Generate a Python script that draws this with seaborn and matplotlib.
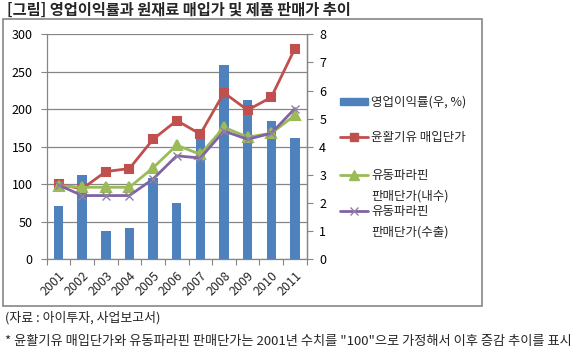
import numpy as np
import pandas as pd
import matplotlib
matplotlib.use("Agg")
import matplotlib.pyplot as plt
import seaborn as sns
from matplotlib.lines import Line2D
from matplotlib.patches import Rectangle

# ---- data ----
years = ["2001", "2002", "2003", "2004", "2005", "2006", "2007", "2008", "2009", "2010", "2011"]
op_margin = [1.9, 3.0, 1.0, 1.1, 2.88, 2.0, 4.32, 6.9, 5.68, 4.9, 4.3]          # right axis
base_oil_price = [100, 94, 117, 121, 160, 185, 167, 222, 199, 216, 281]      # left axis
paraffin_domestic = [98, 96, 96, 96, 122, 152, 140, 176, 163, 168, 192]
paraffin_export = [99, 85, 85, 85, 107, 138, 135, 171, 160, 168, 201]
left_ticks = [0, 50, 100, 150, 200, 250, 300]
right_ticks = [0, 1, 2, 3, 4, 5, 6, 7, 8]

title = "[그림] 영업이익률과 원재료 매입가 및 제품 판매가 추이"
legend_labels = ["영업이익률(우, %)", "윤활기유 매입단가", "유동파라핀\n판매단가(내수)", "유동파라핀\n판매단가(수출)"]
source = "(자료 : 아이투자, 사업보고서)"
note = '* 윤활기유 매입단가와 유동파라핀 판매단가는 2001년 수치를 "100"으로 가정해서 이후 증감 추이를 표시'

BLUE, RED, GREEN, PURPLE = "#4F81BD", "#C0504D", "#9BBB59", "#8064A2"
GRAY = "#868686"
XGRAY = "#8F82A6"

sns.set_theme(style="white")
plt.rcParams["font.family"] = ["Noto Sans CJK KR", "DejaVu Sans"]

W, H = 575, 349
fig = plt.figure(figsize=(W / 100, H / 100), dpi=100)
L, R, T, B = 46.7, 306.7, 34.3, 259.3
ax = fig.add_axes([L / W, 1 - B / H, (R - L) / W, (B - T) / H])
axb = ax.twinx()
axl = ax.twinx()

df = pd.DataFrame({"year": years, "margin": op_margin, "base": base_oil_price,
                   "dom": paraffin_domestic, "exp": paraffin_export})

# bars on right scale
sns.barplot(data=df, x="year", y="margin", ax=axb, color=BLUE, width=0.4,
            saturation=1, edgecolor="none")
# lines on left scale
sns.pointplot(data=df, x="year", y="base", ax=axl, color=RED, markers="s",
              linestyles="-", markersize=6, linewidth=2)
sns.pointplot(data=df, x="year", y="dom", ax=axl, color=GREEN, markers="^",
              linestyles="-", markersize=6.5, linewidth=2)
sns.pointplot(data=df, x="year", y="exp", ax=axl, color=PURPLE, markers="x",
              linestyles="-", markersize=5.5, linewidth=2)
for ln in axl.lines:
    if ln.get_marker() == "x":
        ln.set_markeredgecolor(XGRAY)
        ln.set_markeredgewidth(1.0)

n = len(years)
for a in (ax, axb, axl):
    a.set_xlim(-0.5, n - 0.5)
    a.set_xlabel("")
    a.set_ylabel("")
ax.set_ylim(0, 300)
axl.set_ylim(0, 300)
axb.set_ylim(0, 8)

# left axis ticks + grid
ax.set_yticks(left_ticks)
ax.yaxis.grid(True, color=GRAY, linewidth=0.9)
ax.tick_params(axis="y", left=True, length=4, width=0.8, color=GRAY,
               labelsize=9, pad=6, labelcolor="black")
ax.spines["top"].set_visible(False)
for s in ("left", "bottom", "right"):
    ax.spines[s].set_color(GRAY)
    ax.spines[s].set_linewidth(0.9)

# right axis
axb.set_yticks(right_ticks)
axb.tick_params(axis="y", right=True, length=4, width=0.8, color=GRAY,
                labelsize=9, pad=5, labelcolor="black")
for s in ("top", "left", "bottom"):
    axb.spines[s].set_visible(False)
axb.spines["right"].set_color(GRAY)
axb.spines["right"].set_linewidth(0.9)

axl.set_yticks([])
axl.tick_params(axis="y", right=False, labelright=False)
for s in axl.spines.values():
    s.set_visible(False)

# x axis: ticks at category boundaries, labels at centres
for a in (axb, axl):
    a.tick_params(axis="x", bottom=False, labelbottom=False)
ax.set_xticks(np.arange(n + 1) - 0.5)
ax.set_xticklabels([])
ax.tick_params(axis="x", which="major", bottom=True, length=4, width=0.8, color=GRAY)
ax.set_xticks(np.arange(n), minor=True)
ax.set_xticklabels(years, minor=True, rotation=45, ha="right",
                   rotation_mode="anchor", fontsize=9)
ax.tick_params(axis="x", which="minor", bottom=True, length=0, pad=7)

# outer frame
fig.add_artist(Rectangle((3 / W, 1 - 306 / H), (482 - 3) / W, (306 - 19) / H,
                         transform=fig.transFigure, fill=False,
                         edgecolor=GRAY, linewidth=1.2))

# legend (drawn manually to keep Excel-like layout)
hx0, hx1, tx = 340 / W, 368 / W, 371 / W
rows = [101.7, 137, 175, 211]
fig.add_artist(Rectangle((hx0, 1 - (rows[0] + 3.5) / H), hx1 - hx0, 7 / H,
                         transform=fig.transFigure, color=BLUE))
specs = [(RED, "s", 6, RED, 1), (GREEN, "^", 6.5, GREEN, 1), (PURPLE, "x", 5.5, XGRAY, 1)]
for (c, m, ms, mec, mew), y in zip(specs, rows[1:]):
    fig.add_artist(Line2D([hx0, (hx0 + hx1) / 2, hx1], [1 - y / H] * 3,
                          transform=fig.transFigure, color=c, lw=2,
                          marker=m, markersize=ms, markevery=[1],
                          markeredgecolor=mec, markeredgewidth=mew))
for lab, y in zip(legend_labels, rows):
    for k, t in enumerate(lab.split("\n")):
        fig.text(tx, 1 - (y + 21.5 * k) / H, t, fontsize=9, va="center", ha="left")

fig.text(7 / W, 1 - 10 / H, title, fontsize=11, fontweight="bold", va="center", ha="left")
fig.text(5 / W, 1 - 318 / H, source, fontsize=9.3, va="center", ha="left")
fig.text(5 / W, 1 - 342 / H, note, fontsize=9.5, va="center", ha="left")

fig.savefig("out.png", dpi=100)
